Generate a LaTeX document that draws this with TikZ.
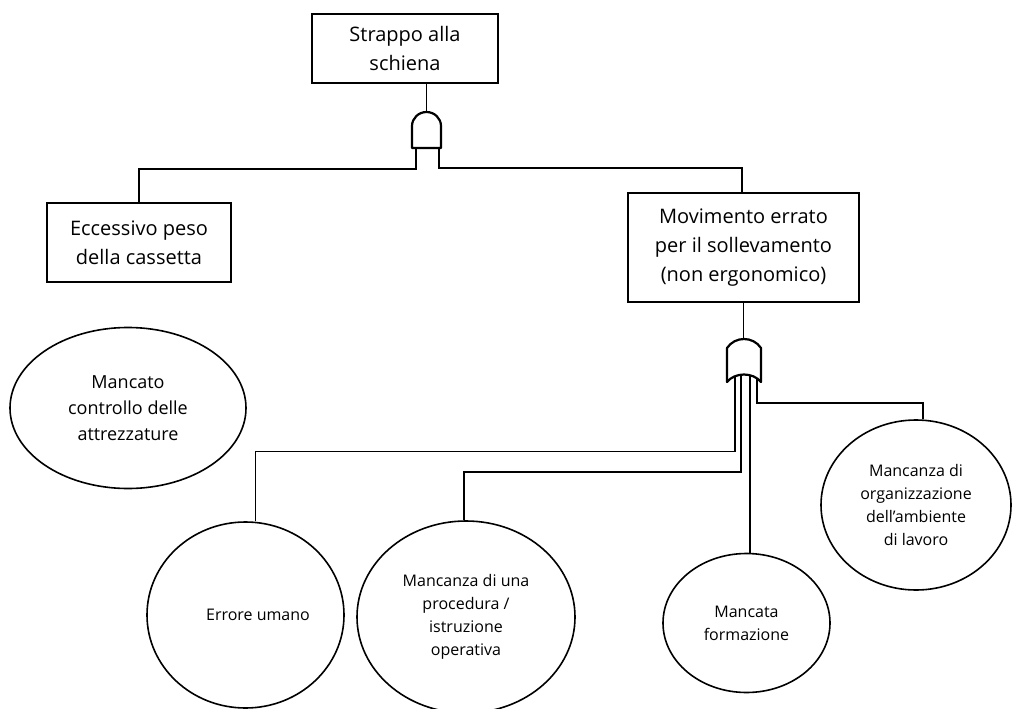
\documentclass[tikz,border=0pt]{standalone}
\usepackage{fontspec}
\setmainfont{Open Sans}
\usetikzlibrary{shapes.geometric}
\begin{document}
\begin{tikzpicture}[x=1pt,y=-1pt,
  event/.style={draw, line width=2pt, inner sep=0pt, align=center,
    font=\fontsize{20}{29}\selectfont},
  cause/.style={draw, ellipse, line width=1.6pt, inner sep=0pt, align=center,
    font=\fontsize{16}{23}\selectfont},
  wire/.style={line width=1.7pt},
  gate/.style={line width=2.2pt, line join=round}]
\useasboundingbox (0,0) rectangle (1012,709);
\clip (0,0) rectangle (1012,709);

% events
\node[event, minimum width=186, minimum height=69] (top) at (405,48.5) {Strappo alla\\schiena};
\node[event, minimum width=184, minimum height=79] (peso) at (139,242.5) {Eccessivo peso\\della cassetta};
\node[event, minimum width=231, minimum height=109] (movimento) at (743.5,247.5)
  {Movimento errato\\per il sollevamento\\(non ergonomico)};

% basic causes
\node[cause, minimum width=236, minimum height=161, font=\fontsize{18}{26}\selectfont] (controllo) at (128,408)
  {Mancato\\controllo delle\\attrezzature};
\node[cause, minimum width=197, minimum height=186] (errore) at (245.5,615) {\hspace*{25pt}Errore umano};
\node[cause, minimum width=218, minimum height=192] (procedura) at (466,617)
  {Mancanza di una\\procedura /\\istruzione\\operativa};
\node[cause, minimum width=167, minimum height=139] (formazione) at (746.5,623) {Mancata\\formazione};
\node[cause, minimum width=190, minimum height=170] (ambiente) at (916,505)
  {Mancanza di\\organizzazione\\dell’ambiente\\di lavoro};

% AND gate
\draw[gate] (412,148) -- (412,126)
  .. controls (412,118.3) and (418.5,112) .. (426.5,112)
  .. controls (434.5,112) and (441,118.3) .. (441,126) -- (441,148) -- cycle;
\coordinate (and-top) at (426.5,112);
\coordinate (and-left) at (416,148);
\coordinate (and-right) at (439,148);

% OR gate
\draw[gate] (727,382) -- (727,348)
  .. controls (735,336) and (753,336) .. (761,348) -- (761,382)
  .. controls (753,372) and (735,372) .. (727,382) -- cycle;
\coordinate (or-top) at (743.5,339);
\coordinate (or1) at (735,376.5);
\coordinate (or2) at (741,375);
\coordinate (or3) at (750,375.5);
\coordinate (or4) at (757,378.8);

% connectors
\draw[wire] (top.south -| and-top) -- (and-top);
\draw[wire] (and-left) -- ++(0,21) -| (peso.north);
\draw[wire] (and-right) -- ++(0,20) -| ([xshift=-1.5pt]movimento.north);
\draw[wire] (movimento.south) -- (or-top);
\draw[wire] (or1) -- ++(0,75) -| ([xshift=10pt]errore.north);
\draw[wire] (or2) -- ++(0,97) -| ([xshift=-2pt]procedura.north);
\draw[wire] (or3) -- (or3 |- formazione.north);
\draw[wire] (or4) -- ++(0,24) -| ([xshift=7pt]ambiente.north);
\end{tikzpicture}
\end{document}
